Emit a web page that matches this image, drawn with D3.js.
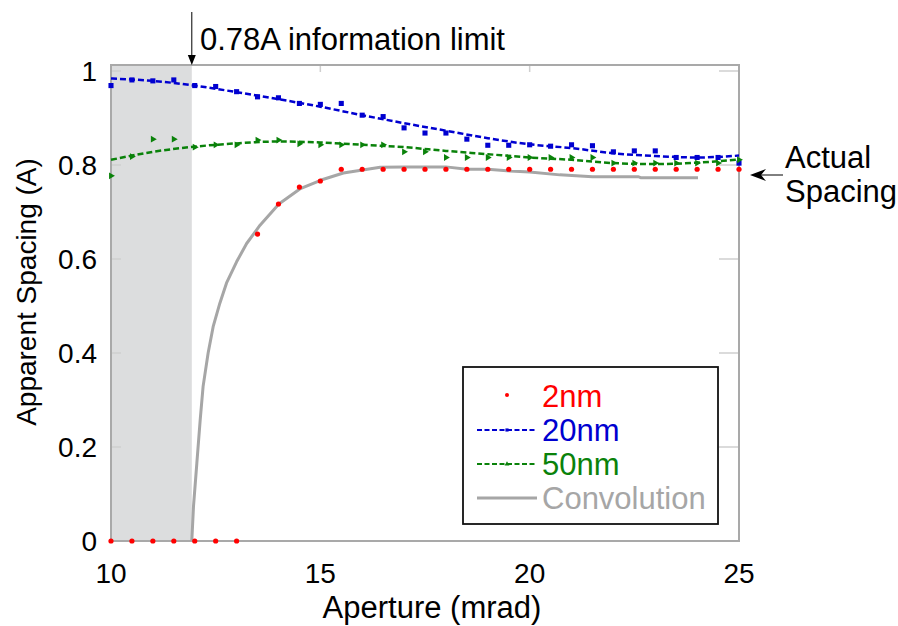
<!DOCTYPE html>
<html>
<head>
<meta charset="utf-8">
<script src="https://cdn.jsdelivr.net/npm/d3@7"></script>
<style>
  body { margin: 0; background: #fff; }
  svg { font-family: "Liberation Sans", Arial, sans-serif; }
</style>
</head>
<body>
<svg id="chart" width="898" height="626"></svg>
<script>
// measured points, aperture in mrad, spacing in A
var aperture = [10, 10.5, 11, 11.5, 12, 12.5, 13, 13.5, 14, 14.5, 15, 15.5, 16, 16.5, 17, 17.5,
                18, 18.5, 19, 19.5, 20, 20.5, 21, 21.5, 22, 22.5, 23, 23.5, 24, 24.5, 25];
var spacing2nm = [0, 0, 0, 0, 0, 0, 0, 0.653, 0.717, 0.753, 0.766, 0.791, 0.791, 0.791, 0.791, 0.791,
                  0.791, 0.791, 0.791, 0.791, 0.791, 0.791, 0.791, 0.791, 0.791, 0.791, 0.791, 0.791, 0.791, 0.791, 0.791];
var spacing20nm = [0.969, 0.981, 0.979, 0.981, 0.969, 0.967, 0.956, 0.945, 0.943, 0.931, 0.929, 0.931, 0.906, 0.903, 0.879, 0.868,
                   0.868, 0.855, 0.842, 0.842, 0.843, 0.840, 0.843, 0.841, 0.828, 0.830, 0.830, 0.816, 0.816, 0.816, 0.804];
var spacing50nm = [0.777, 0.818, 0.855, 0.855, 0.838, 0.843, 0.843, 0.853, 0.853, 0.845, 0.843, 0.843, 0.843, 0.843, 0.828, 0.828,
                   0.816, 0.816, 0.816, 0.816, 0.816, 0.816, 0.816, 0.816, 0.804, 0.804, 0.804, 0.804, 0.804, 0.804, 0.811];

// smooth fit lines through the 20nm and 50nm points
var fitAperture = [10, 11, 12, 13, 14, 15, 16, 17, 18, 19, 20, 21, 22, 23, 24, 25];
var fit20nm = [0.984, 0.979, 0.969, 0.955, 0.940, 0.924, 0.906, 0.889, 0.873, 0.857, 0.844, 0.836, 0.825, 0.819, 0.816, 0.820];
var fit50nm = [0.811, 0.828, 0.839, 0.846, 0.850, 0.848, 0.843, 0.838, 0.830, 0.823, 0.816, 0.811, 0.804, 0.802, 0.805, 0.812];

// convolution curve
var convAperture = [11.93, 11.97, 12.05, 12.13, 12.20, 12.32, 12.44, 12.60, 12.76, 13.00, 13.24, 13.56, 14.01, 14.51,
                    15.02, 15.55, 16.43, 17, 18, 18.5, 19, 19.53, 20, 20.72, 21.5, 22.6, 22.65, 24.02];
var convSpacing = [0, 0.073, 0.165, 0.257, 0.329, 0.400, 0.456, 0.506, 0.549, 0.594, 0.633, 0.672, 0.717, 0.749,
                   0.768, 0.783, 0.795, 0.796, 0.796, 0.791, 0.791, 0.787, 0.785, 0.779, 0.775, 0.775, 0.773, 0.773];

var infoLimit = 11.93;
var xTicks = [10, 15, 20, 25];
var yTicks = [0, 0.2, 0.4, 0.6, 0.8, 1];
var seriesNames = ["2nm", "20nm", "50nm", "Convolution"];
var seriesColors = ["#ff0000", "#0000d0", "#0a820a", "#a6a6a6"];

var svg = d3.select("#chart");

var x = d3.scaleLinear().domain([10, 25]).range([111, 739]);
var y = d3.scaleLinear().domain([0, 1]).range([541, 71]);
var plotTop = 65;

// shaded region below the information limit
svg.append("rect")
  .attr("x", x(10))
  .attr("y", plotTop)
  .attr("width", x(infoLimit) - x(10))
  .attr("height", y(0) - plotTop)
  .attr("fill", "#dcddde");

// inner ticks
yTicks.forEach(function(t) {
  svg.append("line").attr("x1", x(10)).attr("x2", x(10) + 10)
    .attr("y1", y(t)).attr("y2", y(t)).attr("stroke", "#cfcfcf").attr("stroke-width", 1.5);
  svg.append("line").attr("x1", x(25)).attr("x2", x(25) - 20)
    .attr("y1", y(t)).attr("y2", y(t)).attr("stroke", "#cfcfcf").attr("stroke-width", 1.5);
});
xTicks.forEach(function(t) {
  svg.append("line").attr("x1", x(t)).attr("x2", x(t))
    .attr("y1", plotTop).attr("y2", plotTop + 7).attr("stroke", "#cfcfcf").attr("stroke-width", 1.5);
});

// frame
svg.append("rect")
  .attr("x", x(10))
  .attr("y", plotTop)
  .attr("width", x(25) - x(10))
  .attr("height", y(0) - plotTop)
  .attr("fill", "none")
  .attr("stroke", "#a9a9a9")
  .attr("stroke-width", 2);

// tick labels
svg.selectAll(".ylab")
    .data(yTicks)
  .enter().append("text")
    .attr("class", "ylab")
    .attr("x", 97)
    .attr("y", function(d) { return y(d) + 10; })
    .attr("text-anchor", "end")
    .attr("font-size", 28)
    .text(function(d) { return d3.format("~g")(d); });

svg.selectAll(".xlab")
    .data(xTicks)
  .enter().append("text")
    .attr("class", "xlab")
    .attr("x", function(d) { return x(d); })
    .attr("y", 583)
    .attr("text-anchor", "middle")
    .attr("font-size", 28)
    .text(function(d) { return d; });

// axis titles
svg.append("text")
  .attr("x", 432)
  .attr("y", 618)
  .attr("text-anchor", "middle")
  .attr("font-size", 31)
  .text("Aperture (mrad)");

svg.append("text")
  .attr("transform", "translate(36,292) rotate(-90)")
  .attr("text-anchor", "middle")
  .attr("font-size", 28)
  .text("Apparent Spacing (A)");

var line = d3.line()
  .x(function(d) { return x(d[0]); })
  .y(function(d) { return y(d[1]); });

var smooth = d3.line()
  .curve(d3.curveMonotoneX)
  .x(function(d) { return x(d[0]); })
  .y(function(d) { return y(d[1]); });

// convolution
svg.append("path")
  .attr("d", line(d3.zip(convAperture, convSpacing)))
  .attr("fill", "none")
  .attr("stroke", seriesColors[3])
  .attr("stroke-width", 3)
  .attr("stroke-linejoin", "round");

// fit lines
[[fit20nm, seriesColors[1]], [fit50nm, seriesColors[2]]].forEach(function(s) {
  svg.append("path")
    .attr("d", smooth(d3.zip(fitAperture, s[0])))
    .attr("fill", "none")
    .attr("stroke", s[1])
    .attr("stroke-width", 2.5)
    .attr("stroke-dasharray", "6,3");
});

// markers
svg.selectAll(".m20")
    .data(d3.zip(aperture, spacing20nm))
  .enter().append("path")
    .attr("class", "m20")
    .attr("transform", function(d) { return "translate(" + x(d[0]) + "," + y(d[1]) + ")"; })
    .attr("d", d3.symbol().type(d3.symbolSquare).size(26))
    .attr("fill", seriesColors[1]);

svg.selectAll(".m50")
    .data(d3.zip(aperture, spacing50nm))
  .enter().append("path")
    .attr("class", "m50")
    .attr("transform", function(d) { return "translate(" + x(d[0]) + "," + y(d[1]) + ") rotate(-30)"; })
    .attr("d", d3.symbol().type(d3.symbolTriangle).size(20))
    .attr("fill", seriesColors[2]);

svg.selectAll(".m2")
    .data(d3.zip(aperture, spacing2nm))
  .enter().append("circle")
    .attr("class", "m2")
    .attr("cx", function(d) { return x(d[0]); })
    .attr("cy", function(d) { return y(d[1]); })
    .attr("r", 2.6)
    .attr("fill", seriesColors[0]);

// legend
var lg = svg.append("g").attr("transform", "translate(463,367)");
lg.append("rect")
  .attr("width", 255).attr("height", 157)
  .attr("fill", "#fff").attr("stroke", "#111").attr("stroke-width", 1.8);

seriesNames.forEach(function(name, i) {
  var cy = 29 + i * 34;
  if (i == 0) {
    lg.append("circle").attr("cx", 44).attr("cy", cy - 1).attr("r", 2).attr("fill", seriesColors[0]);
  } else if (i < 3) {
    lg.append("line").attr("x1", 14).attr("x2", 74).attr("y1", cy).attr("y2", cy)
      .attr("stroke", seriesColors[i]).attr("stroke-width", 2.2).attr("stroke-dasharray", "5,2.5");
    lg.append("path")
      .attr("transform", "translate(44," + cy + ")")
      .attr("d", d3.symbol().type(i == 1 ? d3.symbolSquare : d3.symbolTriangle).size(10))
      .attr("fill", seriesColors[i]);
  } else {
    lg.append("line").attr("x1", 14).attr("x2", 74).attr("y1", cy).attr("y2", cy)
      .attr("stroke", seriesColors[3]).attr("stroke-width", 3);
  }
  lg.append("text")
    .attr("x", 79)
    .attr("y", cy + 11)
    .attr("font-size", 31)
    .attr("fill", seriesColors[i])
    .text(name);
});

// information limit annotation
svg.append("line")
  .attr("x1", x(infoLimit)).attr("x2", x(infoLimit))
  .attr("y1", 12).attr("y2", plotTop - 8)
  .attr("stroke", "#000").attr("stroke-width", 1);
svg.append("path")
  .attr("d", "M" + (x(infoLimit) - 4) + "," + (plotTop - 10) + "L" + (x(infoLimit) + 4) + "," + (plotTop - 10) + "L" + x(infoLimit) + "," + plotTop + "Z")
  .attr("fill", "#000");
svg.append("text")
  .attr("x", 200)
  .attr("y", 50)
  .attr("font-size", 31)
  .text("0.78A information limit");

// actual spacing annotation
svg.append("line")
  .attr("x1", 783).attr("x2", 755)
  .attr("y1", 175).attr("y2", 175)
  .attr("stroke", "#000").attr("stroke-width", 1);
svg.append("path")
  .attr("d", "M750,175 L766,169 L761,175 L766,181 Z")
  .attr("fill", "#000");
svg.append("text").attr("x", 785).attr("y", 168).attr("font-size", 31).text("Actual");
svg.append("text").attr("x", 785).attr("y", 202).attr("font-size", 31).text("Spacing");
</script>
</body>
</html>
